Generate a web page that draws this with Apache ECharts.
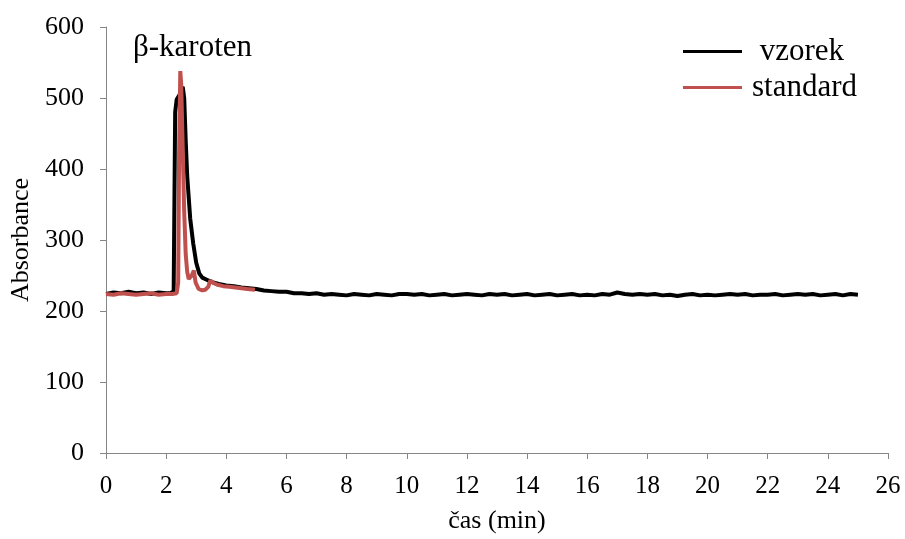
<!DOCTYPE html>
<html>
<head>
<meta charset="utf-8">
<script src="https://cdn.jsdelivr.net/npm/echarts@6/dist/echarts.min.js"></script>
<style>
  html, body { margin: 0; padding: 0; background: #fff; }
  #chart { width: 905px; height: 539px; }
</style>
</head>
<body>
<div id="chart"></div>
<script>
// Chromatogram: absorbance vs. retention time (min)
const seriesNames = ['vzorek', 'standard'];
const peakLabel = 'β-karoten';

// sample trace, [time (min), absorbance]
const vzorek = [
  [0, 224], [0.25, 226], [0.5, 225], [0.75, 227], [1, 225], [1.25, 226], [1.5, 224], [1.75, 226],
  [2, 225], [2.15, 225], [2.25, 228], [2.3, 480], [2.35, 498], [2.4, 500], [2.45, 505], [2.5, 512],
  [2.55, 516], [2.6, 500], [2.65, 440], [2.7, 390], [2.8, 330], [2.9, 295], [3, 268], [3.1, 253],
  [3.2, 247], [3.35, 244], [3.5, 241], [3.75, 238], [4, 236], [4.25, 235], [4.5, 233], [4.75, 232],
  [5, 231], [5.25, 229], [5.5, 228], [5.75, 227], [6, 227], [6.25, 225], [6.5, 225], [6.75, 224],
  [7, 225], [7.25, 223], [7.5, 224], [7.75, 223], [8, 222], [8.25, 224], [8.5, 223], [8.75, 222],
  [9, 224], [9.25, 223], [9.5, 222], [9.75, 224], [10, 224], [10.25, 223], [10.5, 224], [10.75, 222],
  [11, 223], [11.25, 224], [11.5, 222], [11.75, 223], [12, 224], [12.25, 223], [12.5, 222], [12.75, 224],
  [13, 223], [13.25, 224], [13.5, 222], [13.75, 223], [14, 224], [14.25, 222], [14.5, 223], [14.75, 224],
  [15, 222], [15.25, 223], [15.5, 224], [15.75, 222], [16, 223], [16.25, 222], [16.5, 224], [16.75, 223],
  [17, 226], [17.25, 224], [17.5, 223], [17.75, 224], [18, 223], [18.25, 224], [18.5, 222], [18.75, 223],
  [19, 221], [19.25, 223], [19.5, 224], [19.75, 222], [20, 223], [20.25, 222], [20.5, 223], [20.75, 224],
  [21, 223], [21.25, 224], [21.5, 222], [21.75, 223], [22, 223], [22.25, 224], [22.5, 222], [22.75, 223],
  [23, 224], [23.25, 223], [23.5, 224], [23.75, 222], [24, 223], [24.25, 224], [24.5, 222], [24.75, 224],
  [25, 223]
];

// reference standard trace, [time (min), absorbance]
const standard = [
  [0, 224], [0.25, 223], [0.5, 225], [0.75, 224], [1, 223], [1.25, 224], [1.5, 225], [1.75, 223],
  [2, 224], [2.2, 224], [2.35, 225], [2.4, 240], [2.43, 420], [2.47, 538], [2.5, 520], [2.55, 430],
  [2.6, 340], [2.65, 280], [2.7, 255], [2.75, 245], [2.85, 250], [2.92, 257], [2.98, 240], [3.08, 231],
  [3.2, 229], [3.3, 230], [3.4, 234], [3.47, 243], [3.55, 240], [3.7, 237], [3.9, 235], [4.1, 234],
  [4.3, 233], [4.5, 232], [4.7, 231], [4.95, 230]
];

const xTicks = { min: 0, max: 26, step: 2 };
const yTicks = { min: 0, max: 600, step: 100 };

const FONT = "'Liberation Serif', 'Times New Roman', serif";
const AXIS_GREY = '#868686';

const chart = echarts.init(document.getElementById('chart'), null, { renderer: 'canvas' });

chart.setOption({
  animation: false,
  backgroundColor: '#ffffff',
  textStyle: { fontFamily: FONT, color: '#000' },
  title: {
    text: peakLabel,
    left: 128,
    top: 27,
    textStyle: { fontFamily: FONT, fontSize: 31, fontWeight: 'normal', color: '#000' }
  },
  legend: {
    orient: 'vertical',
    left: 683,
    top: 36,
    padding: 0,
    icon: 'rect',
    itemWidth: 59,
    itemHeight: 3,
    itemGap: 5,
    data: seriesNames,
    formatter: n => (n === 'vzorek' ? ' ' + n : n),
    textStyle: { fontFamily: FONT, fontSize: 31, color: '#000', padding: [0, 0, 0, 5] }
  },
  grid: { left: 105, right: 17, top: 27, bottom: 84, containLabel: false },
  xAxis: {
    type: 'value',
    min: xTicks.min,
    max: xTicks.max,
    interval: xTicks.step,
    name: 'čas (min)',
    nameLocation: 'middle',
    nameGap: 55,
    nameTextStyle: { fontFamily: FONT, fontSize: 26, color: '#000' },
    axisLine: { show: true, lineStyle: { color: AXIS_GREY, width: 1 } },
    axisTick: { show: true, inside: false, length: 6, lineStyle: { color: AXIS_GREY } },
    axisLabel: { fontFamily: FONT, fontSize: 25, color: '#000', margin: 21 },
    splitLine: { show: false }
  },
  yAxis: {
    type: 'value',
    min: yTicks.min,
    max: yTicks.max,
    interval: yTicks.step,
    name: 'Absorbance',
    nameLocation: 'middle',
    nameGap: 72,
    nameRotate: 90,
    nameTextStyle: { fontFamily: FONT, fontSize: 26, color: '#000' },
    axisLine: { show: true, lineStyle: { color: AXIS_GREY, width: 1 } },
    axisTick: { show: true, inside: false, length: 6, lineStyle: { color: AXIS_GREY } },
    axisLabel: { fontFamily: FONT, fontSize: 26, color: '#000', margin: 22 },
    splitLine: { show: false }
  },
  series: [
    {
      name: seriesNames[0],
      type: 'line',
      data: vzorek,
      showSymbol: false,
      symbol: 'none',
      color: '#000000',
      lineStyle: { color: '#000000', width: 4 },
      z: 2
    },
    {
      name: seriesNames[1],
      type: 'line',
      data: standard,
      showSymbol: false,
      symbol: 'none',
      color: '#C0504D',
      lineStyle: { color: '#C0504D', width: 4 },
      z: 3
    }
  ]
});
</script>
</body>
</html>
